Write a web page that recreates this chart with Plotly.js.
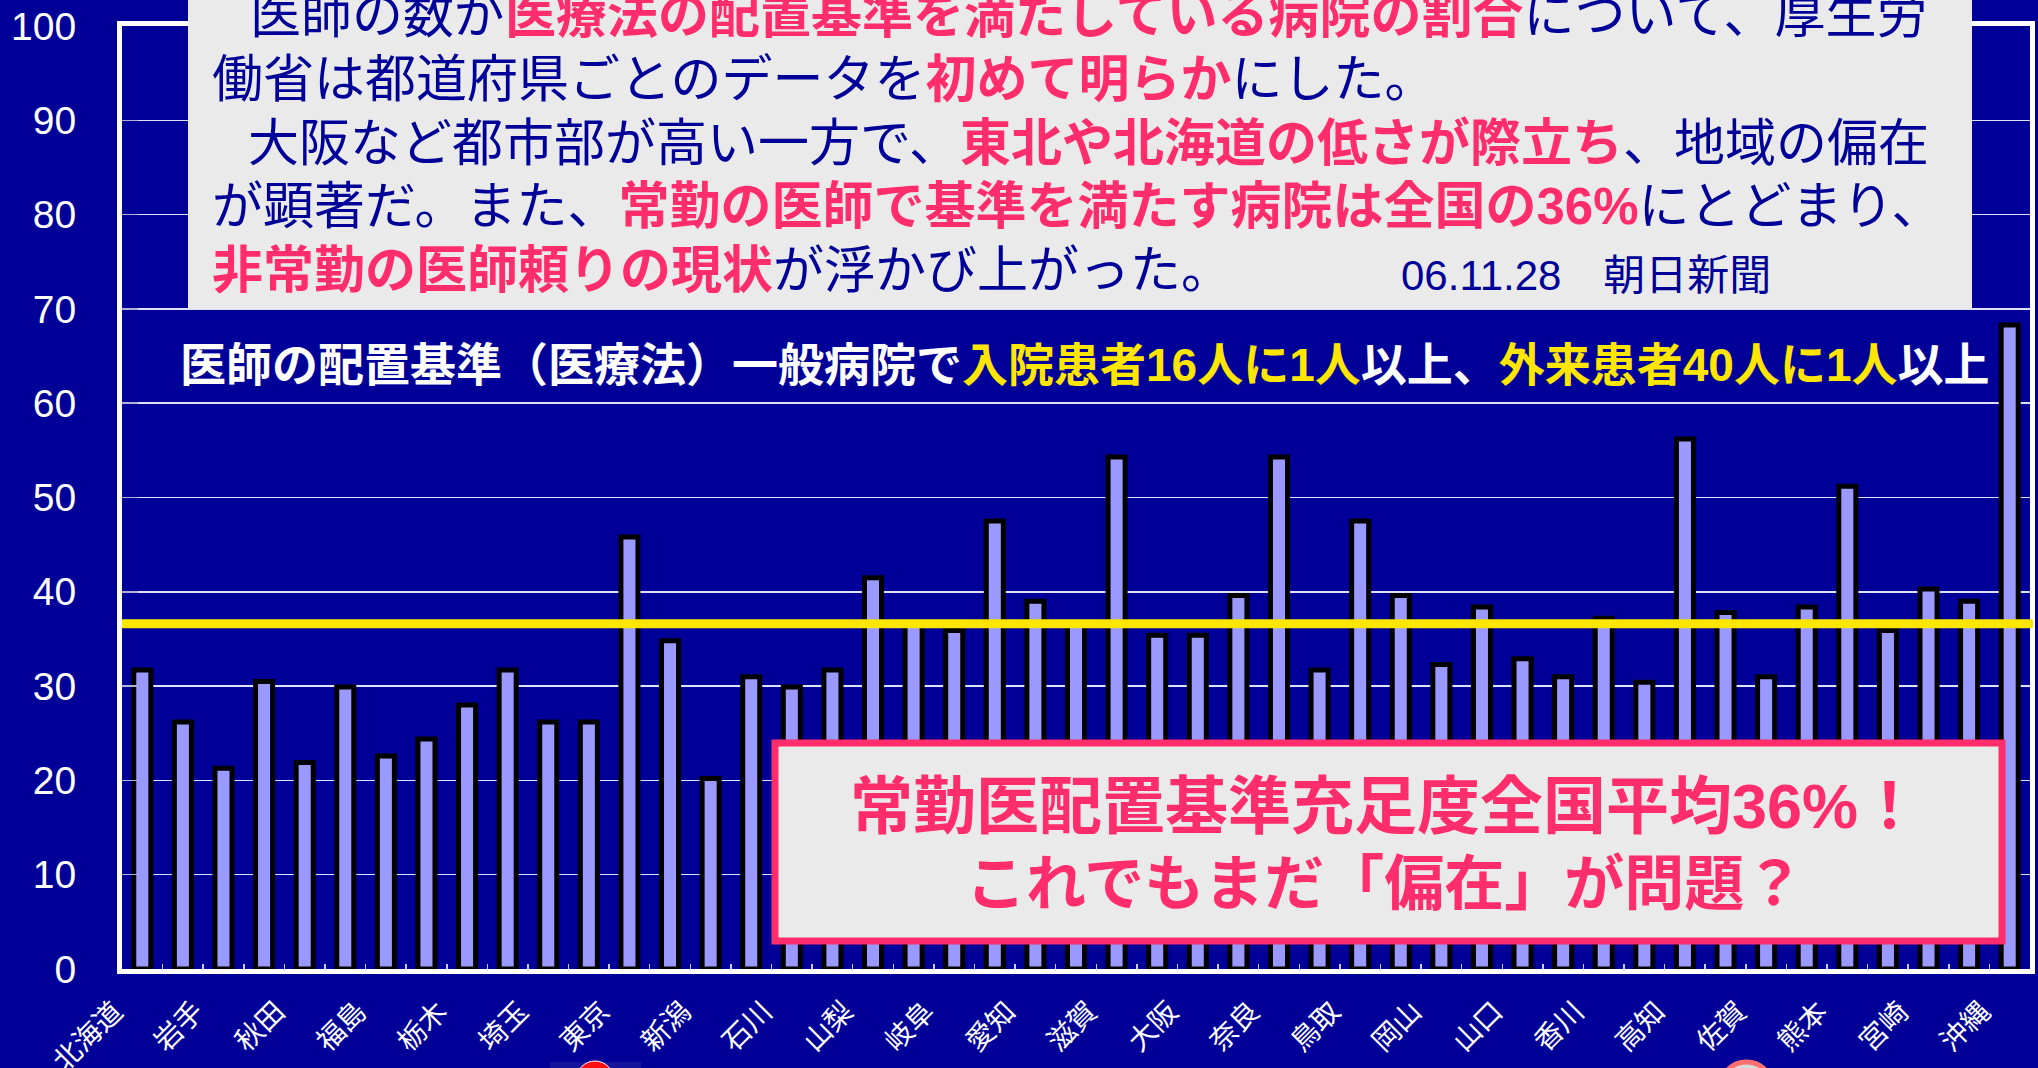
<!DOCTYPE html>
<html>
<head>
<meta charset="utf-8">
<script src="https://cdn.plot.ly/plotly-3.0.1.min.js"></script>
<style>
html,body{margin:0;padding:0;background:#000099;}
#chart{width:2038px;height:1068px;}
</style>
</head>
<body>
<div id="chart"></div>
<script>
// ---- data ----
const prefectures = ['北海道','青森','岩手','宮城','秋田','山形','福島','茨城','栃木','群馬','埼玉','千葉','東京','神奈川','新潟','富山','石川','福井','山梨','長野','岐阜','静岡','愛知','三重','滋賀','京都','大阪','兵庫','奈良','和歌山','鳥取','島根','岡山','広島','山口','徳島','香川','愛媛','高知','福岡','佐賀','長崎','熊本','大分','宮崎','鹿児島','沖縄'];
const rates = [31.7,26.2,21.3,30.5,21.9,29.9,22.6,24.4,28.0,31.7,26.2,26.2,45.8,34.8,20.2,31.0,29.9,31.7,41.5,36.5,35.9,47.5,39.0,36.5,54.3,35.4,35.4,39.6,54.3,31.7,47.5,39.6,32.3,38.4,32.9,31.0,37.2,30.4,56.2,37.8,31.0,38.4,51.2,35.9,40.3,39.0,68.3];
const nationalAverage = 36.6;
const shownLabels = ['北海道','岩手','秋田','福島','栃木','埼玉','東京','新潟','石川','山梨','岐阜','愛知','滋賀','大阪','奈良','鳥取','岡山','山口','香川','高知','佐賀','熊本','宮崎','沖縄'];
const yTicks = [0,10,20,30,40,50,60,70,80,90,100];

// ---- texts ----
const navy = '#000099', pink = '#FF2D6B', yellow = '#FFE600';
const n = t => `<span style="color:${navy}">${t}</span>`;
const p = t => `<b><span style="color:${pink}">${t}</span></b>`;
const topLines = [
  {x:248, y:15, t: n('医師の数が') + p('医療法の配置基準を満たしている病院の割合') + n('について、厚生労')},
  {x:210, y:79, t: n('働省は都道府県ごとのデータを') + p('初めて明らか') + n('にした。')},
  {x:246, y:143, t: n('大阪など都市部が高い一方で、') + p('東北や北海道の低さが際立ち') + n('、地域の偏在')},
  {x:210, y:206, t: n('が顕著だ。また、') + p('常勤の医師で基準を満たす病院は全国の36%') + n('にとどまり、')},
  {x:210, y:270, t: p('非常勤の医師頼りの現状') + n('が浮かび上がった。')}
];
const sourceText = '06.11.28　朝日新聞';
const ruleText = '<b><span style="color:#ffffff">医師の配置基準（医療法）一般病院で</span><span style="color:'+yellow+'">入院患者16人に1人</span><span style="color:#ffffff">以上、</span><span style="color:'+yellow+'">外来患者40人に1人</span><span style="color:#ffffff">以上</span></b>';
const boxLine1 = '常勤医配置基準充足度全国平均36%！';
const boxLine2 = 'これでもまだ「偏在」が問題？';

// ---- layout helpers (pixel -> paper) ----
const W = 2038, H = 1068, mL = 122, mR = 8, mT = 26, mB = 99;
const pw = W - mL - mR, ph = H - mT - mB;
const px = v => (v - mL) / pw;
const py = v => (H - mB - v) / ph;

const tickText = prefectures.map(p0 => shownLabels.includes(p0) ? p0 : '');

const trace = {
  type: 'bar',
  x: prefectures,
  y: rates,
  marker: {color: '#9999FF', line: {color: '#000000', width: 5}},
  hoverinfo: 'x+y'
};

const fontJP = 'Liberation Sans, Noto Sans CJK JP, sans-serif';
const annotations = topLines.map(l => ({
  xref: 'paper', yref: 'paper', x: px(l.x), y: py(l.y), xanchor: 'left', yanchor: 'middle',
  text: l.t, showarrow: false, font: {family: fontJP, size: 51, color: navy}
}));
annotations.push({xref:'paper', yref:'paper', x: px(1399), y: py(275), xanchor:'left', yanchor:'middle',
  text: sourceText, showarrow:false, font:{family: fontJP, size: 42, color: navy}});
annotations.push({xref:'paper', yref:'paper', x: px(178), y: py(365), xanchor:'left', yanchor:'middle',
  text: ruleText, showarrow:false, font:{family: fontJP, size: 46, color: '#ffffff'}});
annotations.push({xref:'paper', yref:'paper', x: px(1385), y: py(806), xanchor:'center', yanchor:'middle',
  text: '<b>'+boxLine1+'</b>', showarrow:false, font:{family: fontJP, size: 63, color: pink}});
annotations.push({xref:'paper', yref:'paper', x: px(1385), y: py(884), xanchor:'center', yanchor:'middle',
  text: '<b>'+boxLine2+'</b>', showarrow:false, font:{family: fontJP, size: 60, color: pink}});

const shapes = [
  {type:'line', xref:'paper', yref:'y', x0: 0, x1: px(2033), y0: nationalAverage, y1: nationalAverage,
   line:{color: yellow, width: 9}, layer:'above'},
  {type:'rect', xref:'paper', yref:'paper', x0: px(188), x1: px(1972), y0: py(309), y1: py(-30),
   fillcolor:'#EAEAEA', line:{width:0}, layer:'above'},
  {type:'rect', xref:'paper', yref:'paper', x0: px(775), x1: px(2002), y0: py(941), y1: py(743),
   fillcolor:'#EAEAEA', line:{color: pink, width: 7}, layer:'above'},
  // partial logos at bottom edge
  {type:'rect', xref:'paper', yref:'paper', x0: px(550), x1: px(641), y0: py(1090), y1: py(1062),
   fillcolor:'#14149c', line:{width:0}, layer:'above'},
  {type:'circle', xref:'paper', yref:'paper', x0: px(576), x1: px(614), y0: py(1100), y1: py(1061),
   fillcolor:'#ff1010', line:{color:'#ffffff', width:1}, layer:'above'},
  {type:'circle', xref:'paper', yref:'paper', x0: px(1720), x1: px(1773), y0: py(1115), y1: py(1062),
   fillcolor:'#d9d9d9', line:{color:'#ff6f6f', width:5}, layer:'above'}
];

const layout = {
  width: W, height: H,
  margin: {l: mL, r: mR, t: mT, b: mB, pad: 0},
  paper_bgcolor: '#000099', plot_bgcolor: '#000099',
  showlegend: false,
  bargap: 0.58,
  xaxis: {
    type: 'category', categoryorder: 'array', categoryarray: prefectures,
    tickmode: 'array', tickvals: prefectures, ticktext: tickText,
    tickangle: -45, ticks: 'inside', tickson: 'boundaries', ticklen: 5, tickwidth: 1.5, tickcolor: '#c8c8ff',
    showline: true, linecolor: '#ffffff', linewidth: 5, mirror: true,
    showgrid: false, zeroline: false,
    tickfont: {family: 'Noto Sans CJK JP, sans-serif', size: 28, color: '#ffffff'},
    ticklabelshift: -28, ticklabelstandoff: 10,
    fixedrange: true
  },
  yaxis: {
    range: [0, 100], tickmode: 'array', tickvals: yTicks,
    showgrid: true, gridcolor: 'rgba(235,235,255,0.95)', gridwidth: 1.5,
    showline: true, linecolor: '#ffffff', linewidth: 5, mirror: true,
    ticks: 'inside', ticklen: 16, tickwidth: 1.5, tickcolor: '#b0b0d8',
    zeroline: false,
    tickfont: {family: 'Liberation Sans, Arial, sans-serif', size: 39, color: '#ffffff'},
    ticklabelstandoff: 33,
    fixedrange: true
  },
  shapes: shapes,
  annotations: annotations
};

Plotly.newPlot('chart', [trace], layout, {displayModeBar: false, staticPlot: true});
</script>
</body>
</html>
